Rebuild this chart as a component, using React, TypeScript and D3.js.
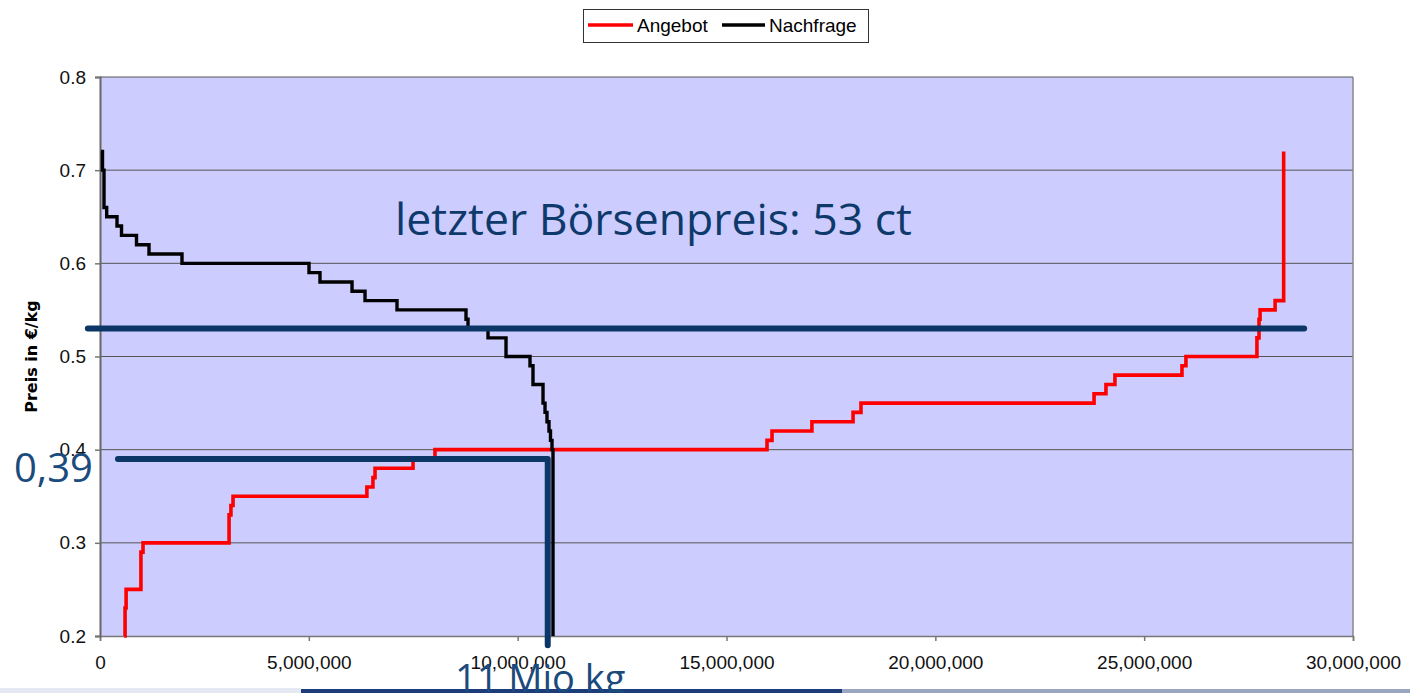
import React, { useEffect, useRef } from 'react'
import * as d3 from 'd3'

// Angebot (Menge ab der der Preis gilt, Preis)
const supplyQty = [580000, 600000, 625000, 980000, 1030000, 3090000, 3135000, 3185000, 6390000, 6535000, 6585000, 7495000, 8020000, 15970000, 16090000, 17045000, 18030000, 18220000, 23800000, 24085000, 24300000, 25905000, 26000000, 27700000, 27750000, 27775000, 28135000, 28340000]
const supplyPrice = [0.2, 0.23, 0.25, 0.29, 0.3, 0.33, 0.34, 0.35, 0.36, 0.37, 0.38, 0.39, 0.4, 0.41, 0.42, 0.43, 0.44, 0.45, 0.46, 0.47, 0.48, 0.49, 0.5, 0.52, 0.54, 0.55, 0.56, 0.72]

// Nachfrage
const demandQty = [24000, 60000, 96000, 160000, 407000, 515000, 874000, 1173000, 1963000, 5004000, 5267000, 6034000, 6345000, 7111000, 8763000, 8811000, 9290000, 9721000, 10295000, 10367000, 10607000, 10655000, 10702000, 10750000, 10786000, 10822000, 10846000]
const demandPrice = [0.72, 0.7, 0.66, 0.65, 0.64, 0.63, 0.62, 0.61, 0.6, 0.59, 0.58, 0.57, 0.56, 0.55, 0.54, 0.53, 0.52, 0.5, 0.49, 0.47, 0.45, 0.44, 0.43, 0.42, 0.41, 0.4, 0.2]

const quantityTicks = [0, 5000000, 10000000, 15000000, 20000000, 25000000, 30000000]
const priceTicks = [0.2, 0.3, 0.4, 0.5, 0.6, 0.7, 0.8]

// Markierungen
const lastPrice = 0.53
const lastPriceQty = [-290000, 28830000]
const clearingPrice = 0.39
const clearingQty = [430000, 10720000]
const clearingBottom = 0.19

const navy = '#0b3665'
const font = '"Liberation Sans", Arial, sans-serif'

export default function App() {
  const ref = useRef<SVGSVGElement>(null)

  useEffect(() => {
    const svg = d3.select(ref.current)
    svg.selectAll('*').remove()

    const x = d3.scaleLinear().domain([0, 30000000]).range([100, 1353])
    const y = d3.scaleLinear().domain([0.2, 0.8]).range([636, 77])

    // Plotfläche
    svg.append('rect')
      .attr('x', x(0)).attr('y', y(0.8))
      .attr('width', x(30000000) - x(0)).attr('height', y(0.2) - y(0.8))
      .attr('fill', '#ccccff')

    // Gitterlinien
    svg.append('g').selectAll('line').data(priceTicks.slice(1)).enter().append('line')
      .attr('x1', x(0)).attr('x2', x(30000000))
      .attr('y1', d => y(d)).attr('y2', d => y(d))
      .attr('stroke', '#555').attr('stroke-width', 1)

    svg.append('line')
      .attr('x1', x(30000000)).attr('x2', x(30000000))
      .attr('y1', y(0.8)).attr('y2', y(0.2))
      .attr('stroke', '#888').attr('stroke-width', 1.5)

    // Achsen
    const xAxis = d3.axisBottom(x).tickValues(quantityTicks).tickFormat(d3.format(',')).tickSize(5).tickPadding(15)
    const yAxis = d3.axisLeft(y).tickValues(priceTicks).tickFormat(d3.format('.1f')).tickSize(5).tickPadding(9)

    const gx = svg.append('g').attr('transform', `translate(0,${y(0.2)})`).call(xAxis)
    const gy = svg.append('g').attr('transform', `translate(${x(0)},0)`).call(yAxis)
    ;[gx, gy].forEach(g => {
      g.select('.domain').attr('stroke', '#777').attr('stroke-width', 1.5)
      g.selectAll('.tick line').attr('stroke', '#777').attr('stroke-width', 1.5)
      g.selectAll('.tick text').attr('font-family', font).attr('font-size', 19).attr('fill', '#111')
    })
    gy.select('.domain').attr('stroke', '#666').attr('stroke-width', 2)

    // Achsentitel
    svg.append('text')
      .attr('transform', `translate(37,${(y(0.2) + y(0.8)) / 2}) rotate(-90)`)
      .attr('text-anchor', 'middle')
      .attr('font-family', '"DejaVu Sans", Verdana, sans-serif').attr('font-weight', 'bold').attr('font-size', 16)
      .text('Preis in €/kg')

    const line = d3.line<[number, number]>()
      .x(d => x(d[0])).y(d => y(d[1]))
      .curve(d3.curveStepAfter)

    const supply = supplyQty.map((q, i) => [q, supplyPrice[i]] as [number, number])
    const demand = demandQty.map((q, i) => [q, demandPrice[i]] as [number, number])

    svg.append('path').attr('d', line(supply))
      .attr('fill', 'none').attr('stroke', '#ff0000').attr('stroke-width', 3.6)
    svg.append('path').attr('d', line(demand))
      .attr('fill', 'none').attr('stroke', '#000').attr('stroke-width', 3.4)

    // letzter Börsenpreis
    const plain = d3.line<[number, number]>().x(d => x(d[0])).y(d => y(d[1]))
    svg.append('path')
      .attr('d', plain(lastPriceQty.map(q => [q, lastPrice] as [number, number])))
      .attr('stroke', navy).attr('stroke-width', 6).attr('stroke-linecap', 'round')

    svg.append('path')
      .attr('d', plain([[clearingQty[0], clearingPrice], [clearingQty[1], clearingPrice], [clearingQty[1], clearingBottom]]))
      .attr('fill', 'none')
      .attr('stroke', navy).attr('stroke-width', 6).attr('stroke-linecap', 'round').attr('stroke-linejoin', 'round')

    svg.append('text')
      .attr('x', 395).attr('y', 235)
      .attr('font-family', '"Open Sans", sans-serif').attr('font-size', 44)
      .attr('textLength', 517).attr('lengthAdjust', 'spacingAndGlyphs')
      .attr('fill', '#0e3a6b')
      .text('letzter Börsenpreis: 53 ct')

    svg.append('text')
      .attr('x', 14).attr('y', 482)
      .attr('font-family', '"Open Sans", sans-serif').attr('font-size', 40)
      .attr('fill', '#1b4a7c')
      .text('0,39')

    // Folienleiste unten
    svg.append('rect').attr('x', 0).attr('y', 688).attr('width', 301).attr('height', 5).attr('fill', '#e4e9f4')
    svg.append('rect').attr('x', 301).attr('y', 689).attr('width', 541).attr('height', 4).attr('fill', '#1c3d7a')
    svg.append('rect').attr('x', 842).attr('y', 689).attr('width', 568).attr('height', 4).attr('fill', '#9aa6c2')

    svg.append('text')
      .attr('x', 455).attr('y', 692)
      .attr('font-family', '"Open Sans", sans-serif').attr('font-size', 38)
      .attr('fill', '#1b4a7c')
      .text('11 Mio kg')

    // Legende
    const lg = svg.append('g')
    lg.append('rect').attr('x', 583.5).attr('y', 9.5).attr('width', 285).attr('height', 33)
      .attr('fill', '#fff').attr('stroke', '#333').attr('stroke-width', 1)
    const items = [
      { label: 'Angebot', color: '#ff0000', x0: 588, x1: 633, tx: 637 },
      { label: 'Nachfrage', color: '#000', x0: 722, x1: 765, tx: 769 },
    ]
    items.forEach(it => {
      lg.append('line').attr('x1', it.x0).attr('x2', it.x1).attr('y1', 25).attr('y2', 25)
        .attr('stroke', it.color).attr('stroke-width', 3.4)
      lg.append('text').attr('x', it.tx).attr('y', 32)
        .attr('font-family', font).attr('font-size', 19)
        .text(it.label)
    })
  }, [])

  return (
    <svg ref={ref} width={1410} height={693}
      style={{ position: 'absolute', left: 0, top: 0, background: '#fff' }} />
  )
}
